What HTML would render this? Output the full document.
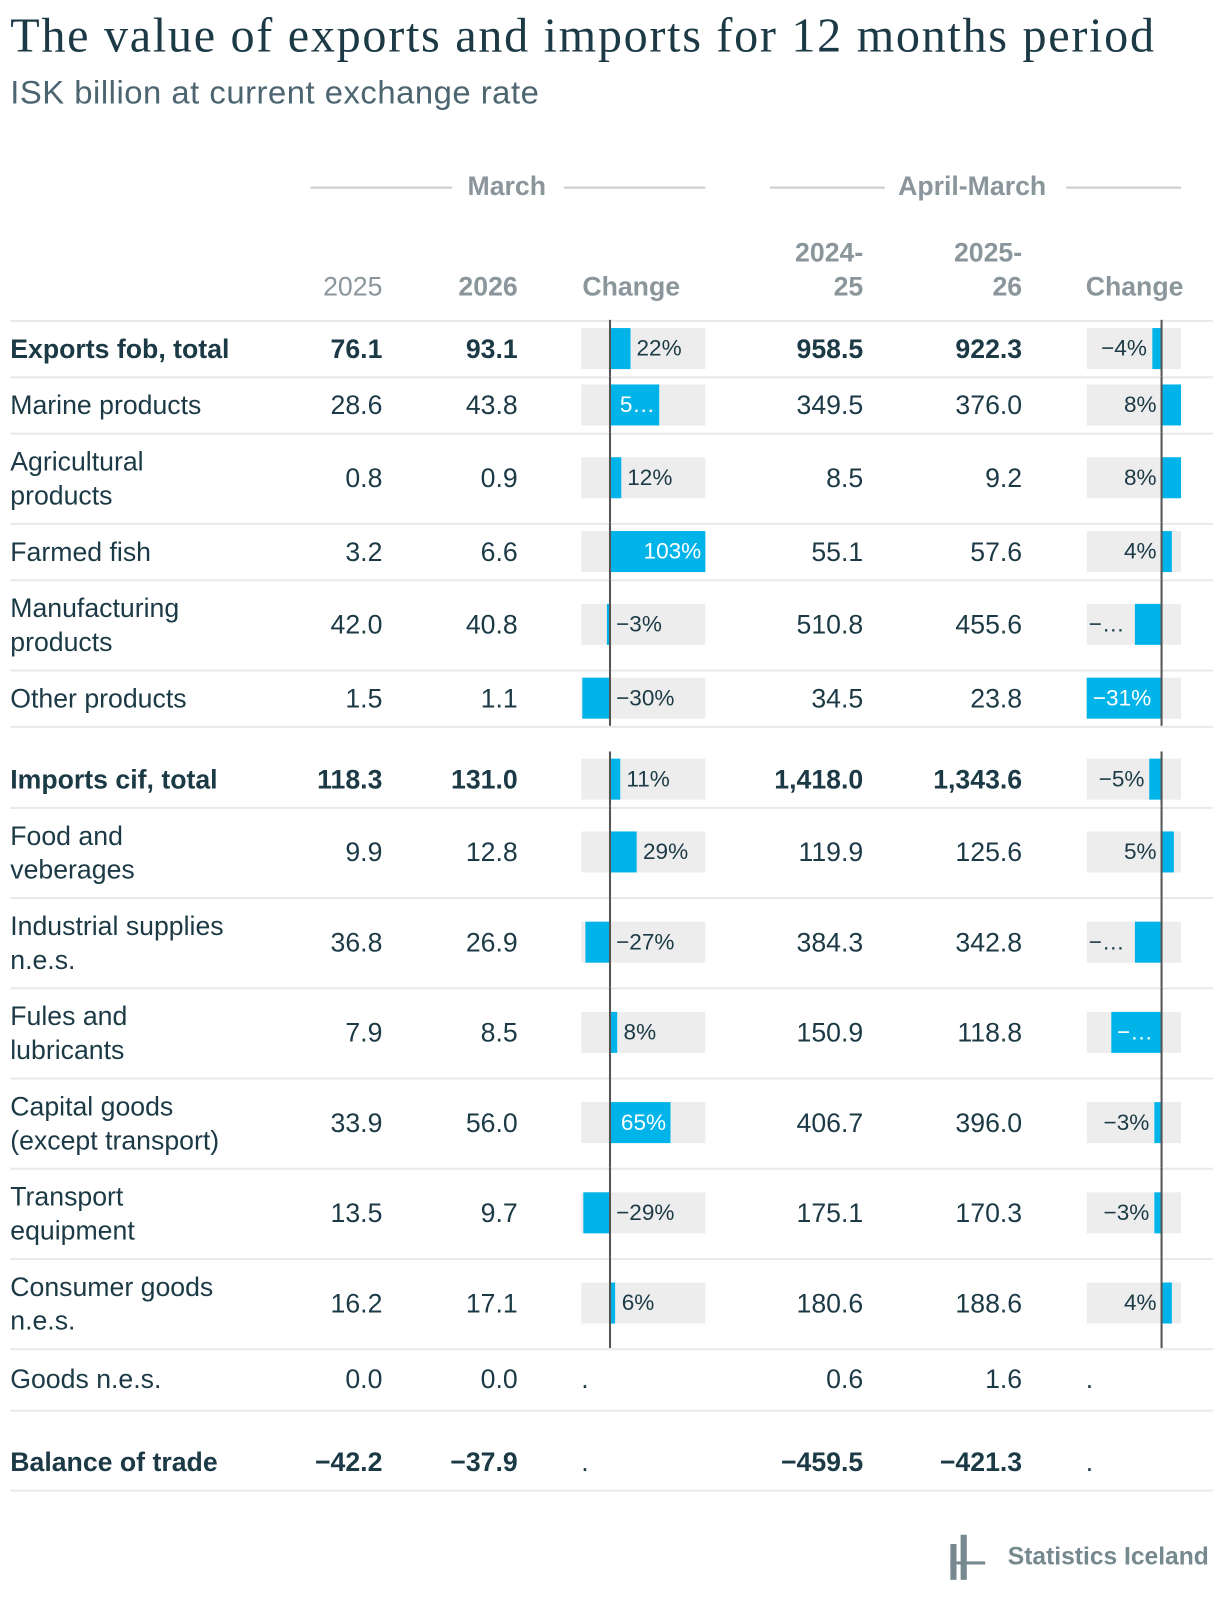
<!DOCTYPE html>
<html><head><meta charset="utf-8">
<style>
body{margin:0;width:1220px;height:1604px;background:#fff;font-family:"Liberation Sans",sans-serif;color:#1c3a46;overflow:hidden}
#wrap{position:absolute;left:0;top:0;width:1190px;height:1565px;transform:scale(1.02521);transform-origin:0 0}
.a{position:absolute;white-space:nowrap}
.t{font-size:26px;line-height:30px}
.h{font-size:26px;color:#8a969b}
.b{font-weight:bold}
.sep{position:absolute;left:10px;width:1173px;height:2px;background:#e9e9e9}
</style></head><body>
<div id="wrap">
<div class="a" style="left:10px;top:8px;font-family:'Liberation Serif',serif;font-size:47px;letter-spacing:1.65px;color:#1c3a46">The value of exports and imports for 12 months period</div>
<div class="a" style="left:10px;top:72px;font-size:32px;letter-spacing:0.5px;color:#4c6570">ISK billion at current exchange rate</div>
<div class="a" style="left:303px;top:182px;width:138px;height:2px;background:#ccc"></div>
<div class="a h b" style="left:456px;top:166px">March</div>
<div class="a" style="left:550px;top:182px;width:138px;height:2px;background:#ccc"></div>
<div class="a" style="left:751px;top:182px;width:112px;height:2px;background:#ccc"></div>
<div class="a h b" style="left:876px;top:166px">April-March</div>
<div class="a" style="left:1040px;top:182px;width:112px;height:2px;background:#ccc"></div>
<div class="a h" style="right:817px;top:264px">2025</div>
<div class="a h b" style="right:685px;top:264px">2026</div>
<div class="a h b" style="left:568px;top:264px">Change</div>
<div class="a h b" style="right:348px;top:230px;text-align:right;line-height:33px">2024-<br>25</div>
<div class="a h b" style="right:193px;top:230px;text-align:right;line-height:33px">2025-<br>26</div>
<div class="a h b" style="left:1059px;top:264px">Change</div>
<div class="a" style="left:927px;top:1497px;width:30px;height:44px">
<div class="a" style="left:0;top:9px;width:6px;height:35px;background:#76898f"></div>
<div class="a" style="left:10px;top:0;width:6px;height:44px;background:#76898f"></div>
<div class="a" style="left:0;top:26px;width:34px;height:3px;background:#76898f"></div>
</div>
<div class="a" style="left:983px;top:1505px;font-size:24px;font-weight:bold;color:#76898f">Statistics Iceland</div>
<div id="root"></div>
</div>
<script>
const labels=["Exports fob, total","Marine products","Agricultural<br>products","Farmed fish","Manufacturing<br>products","Other products","Imports cif, total","Food and<br>veberages","Industrial supplies<br>n.e.s.","Fules and<br>lubricants","Capital goods<br>(except transport)","Transport<br>equipment","Consumer goods<br>n.e.s.","Goods n.e.s.","Balance of trade"];
const v2025=["76.1","28.6","0.8","3.2","42.0","1.5","118.3","9.9","36.8","7.9","33.9","13.5","16.2","0.0","−42.2"];
const v2026=["93.1","43.8","0.9","6.6","40.8","1.1","131.0","12.8","26.9","8.5","56.0","9.7","17.1","0.0","−37.9"];
const v2425=["958.5","349.5","8.5","55.1","510.8","34.5","1,418.0","119.9","384.3","150.9","406.7","175.1","180.6","0.6","−459.5"];
const v2526=["922.3","376.0","9.2","57.6","455.6","23.8","1,343.6","125.6","342.8","118.8","396.0","170.3","188.6","1.6","−421.3"];
const chgM=[22,53,12,103,-3,-30,11,29,-27,8,65,-29,6,null,null];
const chgMLabel=["22%","5…","12%","103%","−3%","−30%","11%","29%","−27%","8%","65%","−29%","6%",".","."];
const chgA=[-4,8,8,4,-11,-31,-5,5,-11,-21,-3,-3,4,null,null];
const chgALabel=["−4%","8%","8%","4%","−…","−31%","−5%","5%","−…","−…","−3%","−3%","4%",".","."];
const bold=[1,0,0,0,0,0,1,0,0,0,0,0,0,0,1];
const rowTop=[312,367,422,510,565,653,733,787,875,963,1051,1139,1227,1315,1399];
const rowH=[55,55,88,55,88,55,54,88,88,88,88,88,88,60,54];
const W=1190;
const xM=v=>567+(v+31)*(121/134);
const xA=v=>1060+(v+31)*(92/39);
const root=document.getElementById('root');
function mk(cls,css,html,name){const d=document.createElement('div');d.className=cls;d.style.cssText=css;if(html!=null)d.innerHTML=html;


root.appendChild(d);return d;}
for(let i=0;i<labels.length;i++){
 const top=rowTop[i],h=rowH[i],cy=top+h/2;
 const two=labels[i].includes('<br>');
 const fw=bold[i]?'font-weight:bold;':'';
 if(i!==6&&i!==14) mk('sep','top:'+top+'px',null,'row-separator');
 mk('a t',fw+'left:10px;top:'+(cy-(two?32:15))+'px;line-height:'+(two?'33px':'30px'),labels[i],'row-label');
 mk('a t',fw+'right:817px;top:'+(cy-15)+'px',v2025[i],'value-2025');
 mk('a t',fw+'right:685px;top:'+(cy-15)+'px',v2026[i],'value-2026');
 mk('a t',fw+'right:348px;top:'+(cy-15)+'px',v2425[i],'value-2024-25');
 mk('a t',fw+'right:193px;top:'+(cy-15)+'px',v2526[i],'value-2025-26');
 if(chgM[i]==null){mk('a t','left:567px;top:'+(cy-15)+'px','.','change-march-na');mk('a t','left:1059px;top:'+(cy-15)+'px','.','change-aprmar-na');continue;}
 mk('a','left:567px;width:121px;top:'+(cy-20)+'px;height:40px;background:#ededed',null,'march-bar-bg');
 const z=xM(0),e=xM(chgM[i]);
 const l=Math.min(z,e),w=Math.abs(e-z);
 mk('a','left:'+l+'px;width:'+w+'px;top:'+(cy-20)+'px;height:40px;background:#00b4ea',null,'march-change-bar');
 mk('a','left:'+(z-1)+'px;width:2px;top:'+top+'px;height:'+h+'px;background:#555',null,'march-zero-axis');
 let fs='font-size:22px;line-height:26px;top:'+(cy-13)+'px;';
 if(chgM[i]>0&&w>45) mk('a',fs+'color:#fff;right:'+(W-e+4)+'px',chgMLabel[i],'march-change-label');
 else mk('a',fs+'left:'+(Math.max(z,e)+6)+'px',chgMLabel[i],'march-change-label');
 mk('a','left:1060px;width:92px;top:'+(cy-20)+'px;height:40px;background:#ededed',null,'aprmar-bar-bg');
 const za=xA(0),ea=xA(chgA[i]);
 const la=Math.min(za,ea),wa=Math.abs(ea-za);
 mk('a','left:'+la+'px;width:'+wa+'px;top:'+(cy-20)+'px;height:40px;background:#00b4ea',null,'aprmar-change-bar');
 mk('a','left:'+(za-1)+'px;width:2px;top:'+top+'px;height:'+h+'px;background:#555',null,'aprmar-zero-axis');
 if(chgA[i]<0&&wa>40) mk('a',fs+'color:#fff;left:'+(la+6)+'px',chgALabel[i],'aprmar-change-label');
 else if(chgA[i]<0&&wa>20) mk('a',fs+'left:1062px',chgALabel[i],'aprmar-change-label');
 else mk('a',fs+'right:'+(W-la+5)+'px',chgALabel[i],'aprmar-change-label');
}
mk('sep','top:708px',null,'row-separator');
mk('sep','top:1375px',null,'row-separator');
mk('sep','top:1453px',null,'row-separator');
</script>
</body></html>
